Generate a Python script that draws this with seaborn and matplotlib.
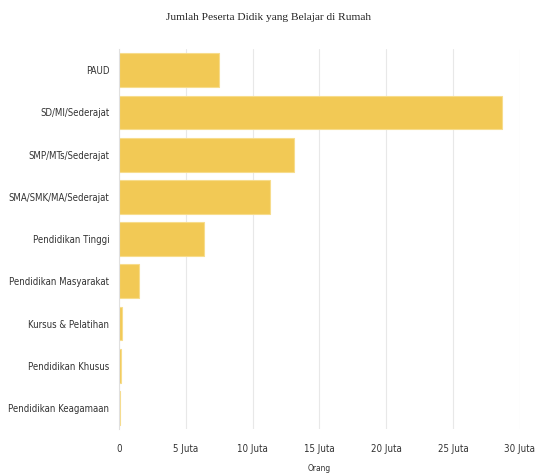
import matplotlib
matplotlib.use("Agg")
import matplotlib.pyplot as plt
import seaborn as sns
import pandas as pd
from matplotlib import font_manager

categories = ["PAUD", "SD/MI/Sederajat", "SMP/MTs/Sederajat", "SMA/SMK/MA/Sederajat",
              "Pendidikan Tinggi", "Pendidikan Masyarakat", "Kursus & Pelatihan",
              "Pendidikan Khusus", "Pendidikan Keagamaan"]
values_juta = [7.46, 28.62, 13.09, 11.29, 6.36, 1.52, 0.25, 0.15, 0.10]
tick_values = [0, 5, 10, 15, 20, 25, 30]
tick_labels = ["0", "5 Juta", "10 Juta", "15 Juta", "20 Juta", "25 Juta", "30 Juta"]

df = pd.DataFrame({"kategori": categories, "orang": values_juta})

sns.set_theme(style="white")
plt.rcParams["font.family"] = ["Liberation Sans", "DejaVu Sans"]

# look for a condensed sans font
cond = None
for f in sorted(font_manager.fontManager.ttflist, key=lambda e: e.fname):
    fn = f.fname.lower()
    if ("condensed" in fn or "narrow" in fn) and "bold" not in fn and "italic" not in fn \
            and "oblique" not in fn and "light" not in fn and "mono" not in fn and "serif" not in fn:
        cond = f.fname
        break

def fp(size):
    if cond:
        return font_manager.FontProperties(fname=cond, size=size)
    return font_manager.FontProperties(family=["Liberation Sans", "DejaVu Sans"], size=size * 0.85)

fig = plt.figure(figsize=(5.38, 4.73), dpi=100)
ax = fig.add_axes([0.2212, 0.093, 0.7453, 0.803])

sns.barplot(data=df, y="kategori", x="orang", orient="h", color="#F2C955",
            saturation=1, width=0.8, edgecolor="#F7DC8C", linewidth=0.8, ax=ax, zorder=2)

ax.set_xlim(0, 30)
ax.set_xticks(tick_values)
ax.set_xticklabels(tick_labels)
ax.tick_params(axis="y", colors="#333333", length=4, width=0.6, color="#cccccc", pad=3)
ax.tick_params(axis="x", length=0, pad=11, colors="#333333")
for lab in ax.get_yticklabels():
    lab.set_fontproperties(fp(6.9))
    lab.set_color("#333333")
for lab in ax.get_xticklabels():
    lab.set_fontproperties(fp(7.0))
    lab.set_color("#333333")
ax.grid(axis="x", color="#e8e8e8", linewidth=0.8, zorder=0)
ax.set_axisbelow(True)
for s in ["top", "right", "bottom"]:
    ax.spines[s].set_visible(False)
ax.spines["left"].set_color("#e0e0e0")
ax.spines["left"].set_linewidth(0.8)
ax.set_ylabel("")
xl = ax.set_xlabel("Orang", color="#333333", labelpad=7)
p = fp(6.0)
p.set_weight("bold")
xl.set_fontproperties(p)

fig.text(0.5, 0.962, "Jumlah Peserta Didik yang Belajar di Rumah", ha="center", va="center",
         fontsize=8.2, family=["Liberation Serif", "DejaVu Serif"], color="#222222")

fig.savefig("out.png", dpi=100)
